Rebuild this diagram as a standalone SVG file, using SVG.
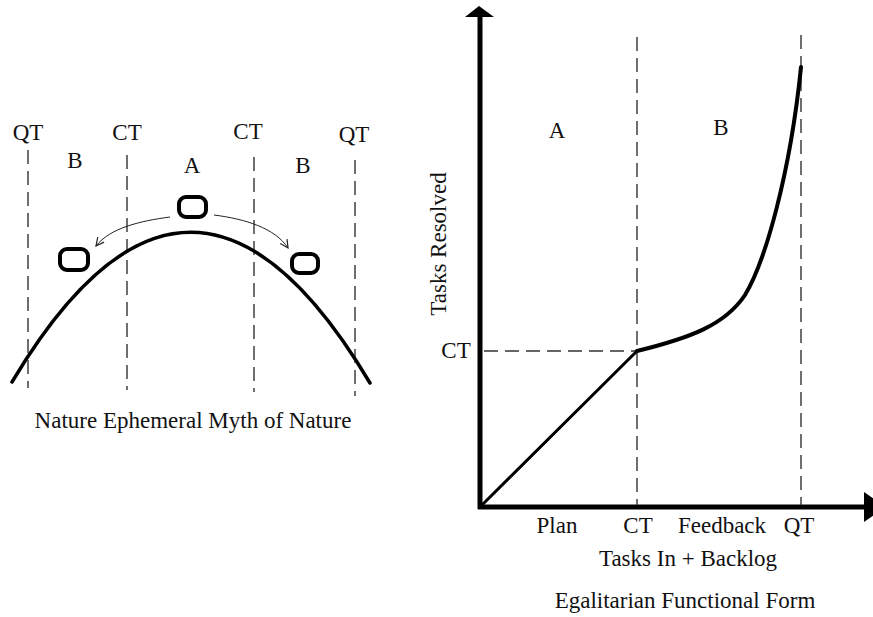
<svg xmlns="http://www.w3.org/2000/svg" width="873" height="617" viewBox="0 0 873 617">
<style>
text{font-family:"Liberation Serif","Times New Roman",serif;font-size:23px;fill:#111;text-anchor:middle}
.dash{stroke:#333;stroke-width:1.4;stroke-dasharray:14 7;fill:none}
.curve{stroke:#000;fill:none;stroke-linecap:round;stroke-linejoin:round}
.oval{fill:none;stroke:#000;stroke-width:4}
.thin{fill:none;stroke:#222;stroke-width:1;marker-end:url(#open)}
</style>
<defs>
<marker id="open" viewBox="0 0 10 10" refX="9" refY="5" markerWidth="10" markerHeight="10" markerUnits="userSpaceOnUse" orient="auto">
<polyline points="1,1 9,5 1,9" fill="none" stroke="#222" stroke-width="1.2"/>
</marker>
</defs>
<rect width="873" height="617" fill="#fff"/>

<g id="left-diagram">
<g id="left-guides">
<line class="dash" x1="28" y1="150" x2="28" y2="388"/>
<line class="dash" x1="127" y1="155" x2="127" y2="390"/>
<line class="dash" x1="254" y1="157" x2="254" y2="392"/>
<line class="dash" x1="355" y1="160" x2="355" y2="396"/>
</g>
<g id="left-labels">
<text x="28" y="140">QT</text>
<text x="127" y="140">CT</text>
<text x="248" y="139">CT</text>
<text x="354" y="142">QT</text>
<text x="75" y="168">B</text>
<text x="192" y="173">A</text>
<text x="303" y="173">B</text>
</g>
<path id="hill" class="curve" stroke-width="3.5" d="M12,382 Q191,82 370,383"/>
<g id="balls">
<rect class="oval" x="179" y="197" width="27" height="20" rx="7"/>
<rect class="oval" x="60" y="249" width="28" height="21" rx="7"/>
<rect class="oval" x="292" y="254" width="26" height="19" rx="7"/>
</g>
<g id="left-connectors">
<path class="thin" d="M170,217 C140,221 110,228 96,246"/>
<path class="thin" d="M214,215 C245,219 275,228 288,248"/>
</g>
<text id="left-caption" x="193" y="428" font-size="24">Nature Ephemeral Myth of Nature</text>
</g>

<g id="right-diagram">
<g id="axes">
<line x1="480" y1="15" x2="480" y2="509" stroke="#000" stroke-width="5"/>
<polygon points="479,6 465,17 494,17" fill="#000"/>
<line x1="478" y1="507" x2="868" y2="507" stroke="#000" stroke-width="5"/>
<polygon points="864,492 864,522 886,507" fill="#000"/>
</g>
<g id="right-guides">
<line class="dash" x1="637" y1="37" x2="637" y2="505"/>
<line class="dash" x1="801" y1="35" x2="801" y2="505"/>
<line class="dash" x1="484" y1="351" x2="637" y2="351"/>
</g>
<path id="growth" class="curve" stroke-width="3" d="M483,504 L637,351"/>
<path id="growth2" class="curve" stroke-width="4" d="M637,351 C690,338 725,325 745,295 C765,262 790,175 801,67"/>
<g id="right-labels">
<text x="557" y="138">A</text>
<text x="721" y="135">B</text>
<text x="456" y="358">CT</text>
<text transform="translate(446,244) rotate(-90)" x="0" y="0" font-size="24">Tasks Resolved</text>
<text x="557" y="533">Plan</text>
<text x="638" y="533">CT</text>
<text x="722" y="533">Feedback</text>
<text x="799" y="533">QT</text>
<text x="688" y="566" font-size="24">Tasks In + Backlog</text>
<text x="685" y="608">Egalitarian Functional Form</text>
</g>
</g>
</svg>
